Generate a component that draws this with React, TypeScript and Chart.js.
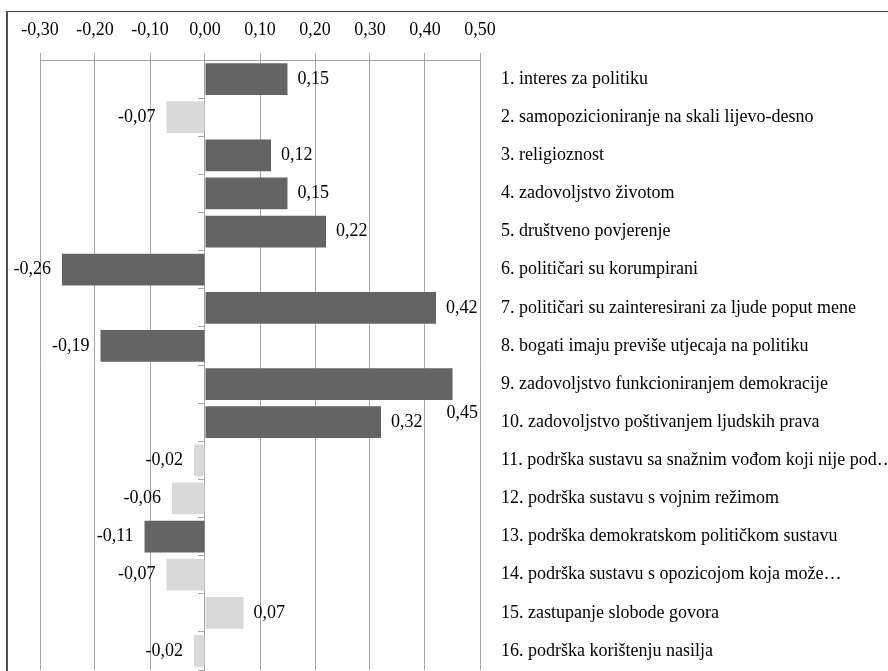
import React, { useEffect, useRef } from 'react';
import { Chart, registerables } from 'chart.js';

Chart.register(...registerables);

const categories: string[] = [
  '1. interes za politiku',
  '2. samopozicioniranje na skali lijevo-desno',
  '3. religioznost',
  '4. zadovoljstvo životom',
  '5. društveno povjerenje',
  '6. političari su korumpirani',
  '7. političari su zainteresirani za ljude poput mene',
  '8. bogati imaju previše utjecaja na politiku',
  '9. zadovoljstvo funkcioniranjem demokracije',
  '10. zadovoljstvo poštivanjem ljudskih prava',
  '11. podrška sustavu sa snažnim vođom koji nije pod…',
  '12. podrška sustavu s vojnim režimom',
  '13. podrška demokratskom političkom sustavu',
  '14. podrška sustavu s opozicojom koja može…',
  '15. zastupanje slobode govora',
  '16. podrška korištenju nasilja',
];

const values: number[] = [0.15, -0.07, 0.12, 0.15, 0.22, -0.26, 0.42, -0.19, 0.45, 0.32, -0.02, -0.06, -0.11, -0.07, 0.07, -0.02];

const significant: boolean[] = [true, false, true, true, true, true, true, true, true, true, false, false, true, false, false, false];

const xTickValues: number[] = [-0.3, -0.2, -0.1, 0, 0.1, 0.2, 0.3, 0.4, 0.5];

const DARK = '#646464';
const LIGHT = '#d9d9d9';
const GRID = '#a6a6a6';
const FONT_FAMILY = '"Liberation Serif", "Times New Roman", serif';
const FONT_SIZE = 18;

const fmt = (v: number) => (Math.abs(v) < 1e-9 ? 0 : v).toFixed(2).replace('.', ',');

const barLabels = {
  id: 'barLabels',
  afterDatasetsDraw(chart: any) {
    const { ctx, chartArea } = chart;
    const meta = chart.getDatasetMeta(0);
    ctx.save();
    ctx.font = `${FONT_SIZE}px ${FONT_FAMILY}`;
    ctx.fillStyle = '#000';
    ctx.textBaseline = 'middle';
    ctx.textAlign = 'left';
    meta.data.forEach((bar: any, i: number) => {
      const v = values[i];
      const text = fmt(v);
      const w = ctx.measureText(text).width;
      const { x, y, height } = bar.getProps(['x', 'y', 'height'], true);
      let tx: number;
      let ty = y;
      if (v >= 0) {
        tx = x + 10;
        if (tx + w > chartArea.right + 4) {
          tx = chartArea.right - 2 - w;
          ty = y + height / 2 + 13;
        }
      } else {
        tx = x - 11 - w;
      }
      ctx.fillText(text, tx, ty);
    });
    ctx.restore();
  },
};

export default function App() {
  const canvasRef = useRef<HTMLCanvasElement | null>(null);

  useEffect(() => {
    if (!canvasRef.current) return;
    const font = { family: FONT_FAMILY, size: FONT_SIZE };
    const chart = new Chart(canvasRef.current, {
      type: 'bar',
      data: {
        labels: categories,
        datasets: [
          {
            data: values,
            backgroundColor: significant.map((s) => (s ? DARK : LIGHT)),
            borderWidth: 0,
            barPercentage: 0.83,
            categoryPercentage: 1,
          },
        ],
      },
      options: {
        indexAxis: 'y',
        animation: false,
        responsive: true,
        maintainAspectRatio: false,
        layout: { padding: { left: 40, top: 0, right: 0, bottom: 1 } },
        plugins: {
          legend: { display: false },
          tooltip: { enabled: false },
        },
        scales: {
          x: {
            type: 'linear',
            position: 'top',
            min: xTickValues[0],
            max: xTickValues[xTickValues.length - 1],
            afterBuildTicks: (s: any) => {
              s.ticks = xTickValues.map((v) => ({ value: v }));
            },
            afterFit: (s: any) => {
              s.height = 60;
            },
            grid: { color: GRID, tickLength: 7, lineWidth: 1 },
            border: { display: true, color: GRID },
            ticks: {
              font,
              color: '#000',
              padding: 12,
              autoSkip: false,
              maxRotation: 0,
              callback: (v: any) => fmt(Number(v)),
            },
          },
          y: {
            type: 'category',
            position: 'right',
            offset: true,
            afterFit: (s: any) => {
              s.width = 408;
              s.paddingTop = 0;
              s.paddingBottom = 0;
            },
            grid: { display: false, drawTicks: false },
            border: { display: false },
            ticks: { font, color: '#000', padding: 21, autoSkip: false },
          },
          y2: {
            type: 'category',
            labels: categories,
            position: { x: 0 },
            offset: true,
            afterFit: (s: any) => {
              s.paddingTop = 0;
              s.paddingBottom = 0;
            },
            grid: { offset: true, drawOnChartArea: false, tickLength: 6, color: GRID },
            border: { display: true, color: GRID },
            ticks: { display: false },
          },
        },
      } as any,
      plugins: [barLabels],
    });
    return () => chart.destroy();
  }, []);

  return (
    <div style={{ position: 'fixed', left: 0, top: 0, width: 888, height: 671, overflow: 'hidden', background: '#fff' }}>
      <canvas ref={canvasRef} />
      <div
        style={{
          position: 'absolute',
          left: 6,
          top: 11,
          width: 1000,
          height: 1000,
          borderTop: '1px solid #404040',
          borderLeft: '2px solid #505050',
          pointerEvents: 'none',
        }}
      />
    </div>
  );
}
